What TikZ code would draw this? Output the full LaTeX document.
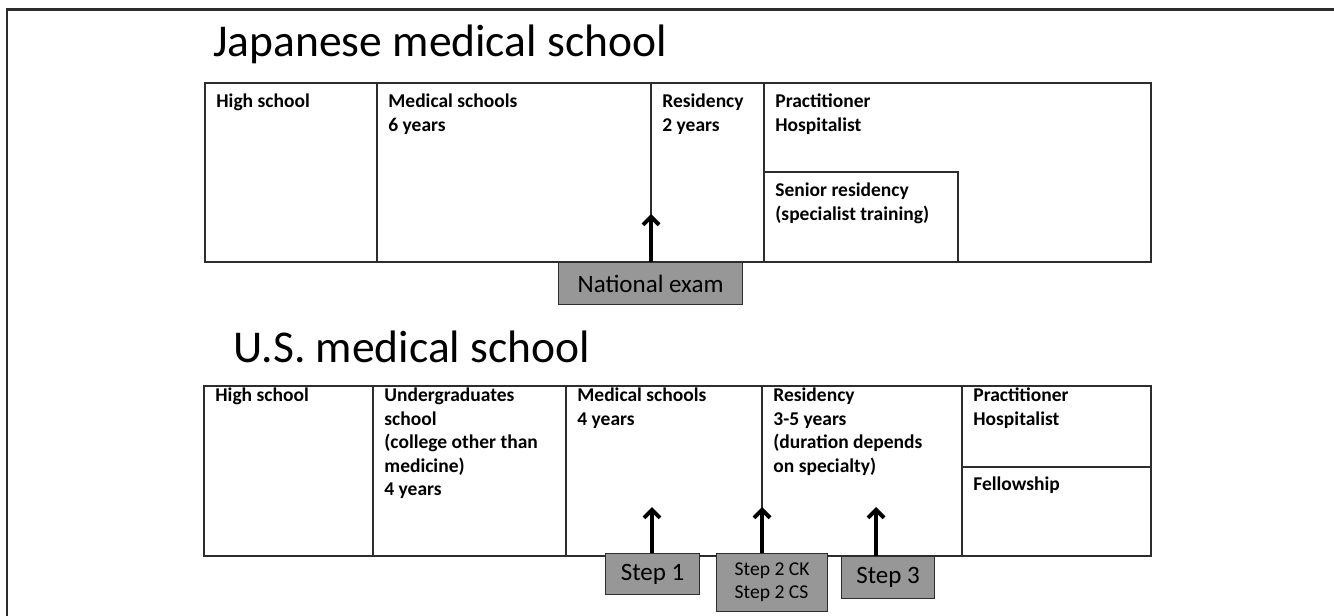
\documentclass[tikz,border=0pt]{standalone}
\usepackage{fontspec}
\setmainfont{Carlito}
\usetikzlibrary{arrows.meta}
\definecolor{examfill}{RGB}{151,151,151}
\definecolor{linecol}{RGB}{45,45,45}
\begin{document}
\begin{tikzpicture}[x=0.5pt,y=-0.5pt,
  box/.style={draw=linecol, line width=0.75pt},
  cell/.style={anchor=north west, inner sep=0pt, align=left, font=\fontsize{9.75pt}{11.75pt}\selectfont\bfseries},
  title/.style={anchor=base west, inner sep=0pt, font=\fontsize{22.75pt}{27pt}\selectfont},
  exam/.style={draw=linecol, fill=examfill, line width=0.6pt, inner sep=0pt, anchor=north west, font=\fontsize{12.5pt}{15pt}\selectfont},
  up/.style={-{Straight Barb[length=4pt,width=8pt]}, line width=2pt, black}
]
\useasboundingbox (0,0) rectangle (1334,616);
% outer frame
\draw[line width=1.25pt, linecol] (7,616) -- (7,9.5) -- (1334,9.5);

% Japanese
\node[title] (jtitle) at (213,56) {Japanese medical school};
\draw[box] (205,83) rectangle (1151,262);
\draw[box] (377,83) -- (377,262);
\draw[box] (651,83) -- (651,262);
\draw[box] (764,83) -- (764,262);
\draw[box] (764,172) -- (958,172) -- (958,262);
\node[cell] (jhs) at (216,93.5) {High school};
\node[cell] (jms) at (388,93.5) {Medical schools\\6 years};
\node[cell] (jres) at (662,93.5) {Residency\\2 years};
\node[cell] (jprac) at (775,93.5) {Practitioner\\Hospitalist};
\node[cell] (jsen) at (775,182.5) {Senior residency\\(specialist training)};
\node[exam, minimum width=92pt, minimum height=21pt] (nexam) at (558,262) {National exam};
\coordinate (jtip) at (651,214);
\draw[up] (jtip |- nexam.north) -- (jtip);

% US
\node[title] (utitle) at (233,362) {U.S. medical school};
\draw[box] (204,386) rectangle (1151,556);
\draw[box] (373,386) -- (373,556);
\draw[box] (566,386) -- (566,556);
\draw[box] (762,386) -- (762,556);
\draw[box] (962,386) -- (962,556);
\draw[box] (962,467) -- (1151,467);
\node[cell] (uhs) at (215,387.5) {High school};
\node[cell] (uug) at (384,387.5) {Undergraduates\\school\\(college other than\\medicine)\\4 years};
\node[cell] (ums) at (577,387.5) {Medical schools\\4 years};
\node[cell] (ures) at (773,387.5) {Residency\\3-5 years\\(duration depends\\on specialty)};
\node[cell] (uprac) at (973,387.5) {Practitioner\\Hospitalist};
\node[cell] (ufel) at (973,476.5) {Fellowship};

\node[exam, minimum width=47pt, minimum height=20.5pt] (step1) at (605,553) {Step 1};
\node[exam, minimum width=55.5pt, minimum height=29pt, align=left, font=\fontsize{9.8pt}{11.5pt}\selectfont] (step2) at (716,553) {Step 2 CK\\Step 2 CS};
\node[exam, minimum width=46.5pt, minimum height=21pt] (step3) at (841,556) {Step 3};
\coordinate (s1tip) at (652,507);
\coordinate (s2tip) at (762,507);
\coordinate (s3tip) at (876,507);
\draw[up] (s1tip |- step1.north) -- (s1tip);
\draw[up] (s2tip |- step2.north) -- (s2tip);
\draw[up] (s3tip |- step3.north) -- (s3tip);
\end{tikzpicture}
\end{document}
